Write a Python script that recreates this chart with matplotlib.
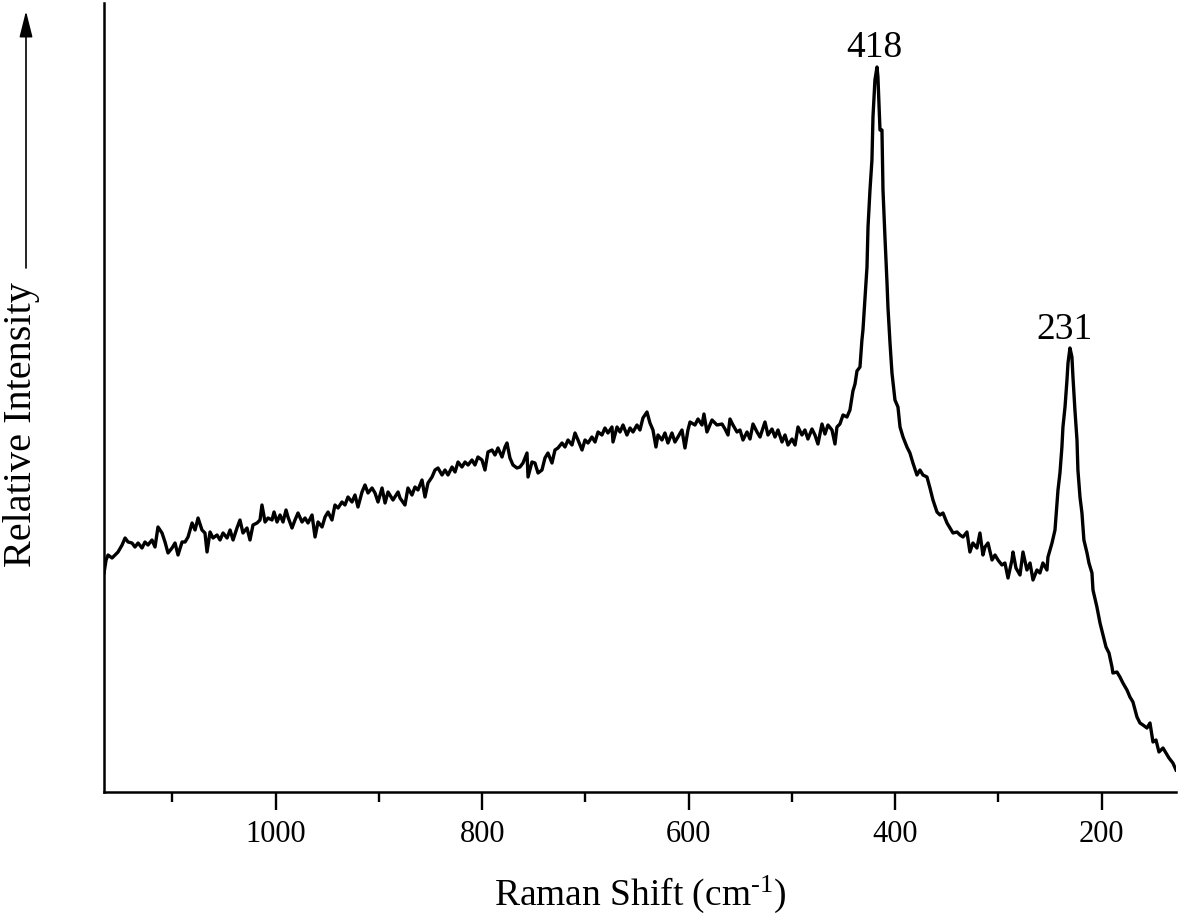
import matplotlib
matplotlib.use("Agg")
import matplotlib.pyplot as plt

plt.rcParams['font.family'] = ['Liberation Serif', 'DejaVu Serif']
plt.rcParams['mathtext.fontset'] = 'custom'
plt.rcParams['mathtext.rm'] = 'Liberation Serif'
plt.rcParams['mathtext.it'] = 'Liberation Serif:italic'

# Raman spectrum (arbitrary intensity units)
shift = [
    1166.3, 1164.3, 1162.4, 1158.5, 1155.6, 1152.7, 1148.8, 1145.9, 1143.0, 1139.2,
    1136.3, 1133.3, 1129.5, 1126.6, 1123.7, 1119.8, 1116.9, 1114.0, 1110.1, 1107.2,
    1104.3, 1100.4, 1097.5, 1094.6, 1090.7, 1087.8, 1084.9, 1081.0, 1078.1, 1075.2,
    1071.4, 1068.5, 1066.5, 1063.6, 1060.7, 1056.8, 1053.9, 1051.0, 1047.1, 1044.2,
    1041.3, 1037.5, 1034.6, 1031.7, 1027.8, 1024.9, 1022.0, 1018.1, 1015.2, 1013.3,
    1010.3, 1007.4, 1003.6, 1001.6, 998.7, 995.8, 992.9, 990.0, 988.1, 984.2,
    981.3, 978.4, 974.5, 971.6, 968.7, 964.8, 961.9, 959.0, 955.1, 952.2,
    949.3, 945.5, 942.6, 939.6, 935.8, 932.9, 930.0, 926.1, 923.2, 920.3,
    916.4, 913.5, 910.6, 906.7, 903.8, 900.9, 897.0, 894.1, 891.2, 886.4,
    881.5, 879.6, 874.8, 871.9, 868.0, 865.1, 862.2, 858.3, 855.4, 852.5,
    848.6, 845.7, 842.8, 838.9, 836.0, 833.1, 829.2, 826.3, 823.4, 819.6,
    816.6, 813.7, 809.9, 807.0, 804.1, 800.2, 797.3, 794.4, 790.5, 787.6,
    784.7, 780.8, 777.9, 776.0, 773.1, 770.2, 766.3, 763.4, 760.5, 756.6,
    755.6, 751.8, 748.9, 745.9, 742.1, 739.2, 736.3, 732.4, 729.5, 726.6,
    722.7, 719.8, 716.9, 713.0, 710.1, 707.2, 703.3, 700.4, 697.5, 693.7,
    690.7, 687.8, 684.0, 681.1, 678.2, 674.3, 673.3, 669.4, 666.5, 663.6,
    659.8, 656.8, 653.9, 650.1, 647.2, 644.3, 640.4, 637.5, 634.6, 631.7,
    629.7, 625.9, 623.0, 620.1, 616.2, 613.3, 610.4, 606.5, 603.6, 600.7,
    598.7, 593.9, 591.0, 587.1, 585.2, 582.3, 577.4, 572.6, 567.7, 564.8,
    561.9, 560.0, 557.1, 553.2, 550.3, 547.4, 543.5, 540.6, 537.7, 533.8,
    530.9, 526.1, 523.2, 519.3, 516.4, 513.5, 509.6, 506.7, 503.8, 499.9,
    497.0, 494.1, 490.3, 487.4, 484.5, 480.6, 477.7, 474.8, 470.9, 468.0,
    465.1, 461.2, 458.3, 456.4, 453.5, 450.5, 446.7, 443.8, 440.9, 438.9,
    437.0, 434.1, 432.2, 431.2, 429.2, 427.3, 426.3, 424.4, 422.5, 421.5,
    419.6, 417.6, 416.7, 414.7, 412.8, 411.8, 409.9, 407.9, 407.0, 405.0,
    403.1, 400.2, 397.3, 395.3, 392.4, 388.6, 385.7, 382.8, 378.9, 376.0,
    373.1, 369.2, 366.3, 363.4, 359.5, 356.6, 353.7, 349.8, 346.9, 344.0,
    340.1, 337.2, 334.3, 330.5, 327.6, 324.7, 320.8, 317.9, 315.0, 313.0,
    310.1, 306.2, 303.3, 300.4, 296.6, 293.7, 290.7, 286.9, 285.9, 283.0,
    279.1, 276.2, 272.4, 269.4, 266.5, 262.7, 259.8, 256.9, 253.0, 252.0,
    248.1, 245.2, 243.3, 242.3, 240.4, 238.5, 237.5, 235.5, 233.6, 232.6,
    230.7, 228.8, 227.8, 225.9, 223.9, 223.0, 221.0, 219.1, 217.2, 214.2,
    212.3, 209.4, 208.4, 204.6, 201.6, 198.7, 195.8, 192.9, 190.0, 189.1,
    185.2, 182.3, 179.4, 175.5, 172.6, 169.7, 165.8, 162.9, 160.0, 156.1,
    153.2, 150.3, 147.4, 144.5, 140.6, 137.7, 134.8, 131.0, 128.0,
]
intensity = [
    219, 232, 237, 234, 237, 240, 247, 254, 250, 249,
    245, 249, 244, 250, 247, 252, 245, 265, 259, 250,
    239, 244, 249, 237, 250, 250, 255, 269, 262, 274,
    262, 259, 240, 260, 254, 257, 252, 259, 254, 262,
    252, 264, 272, 259, 264, 252, 267, 269, 272, 287,
    270, 274, 272, 280, 270, 277, 270, 282, 275, 264,
    272, 279, 270, 274, 269, 277, 255, 270, 265, 275,
    280, 272, 287, 284, 290, 287, 295, 290, 297, 285,
    300, 307, 299, 304, 299, 290, 304, 289, 300, 292,
    300, 294, 287, 304, 297, 305, 302, 312, 295, 309,
    315, 322, 324, 317, 322, 317, 325, 320, 330, 325,
    330, 327, 332, 327, 335, 332, 322, 340, 342, 337,
    344, 335, 345, 349, 334, 327, 324, 325, 329, 339,
    315, 330, 329, 319, 322, 334, 339, 329, 342, 344,
    349, 345, 352, 347, 359, 352, 342, 352, 349, 355,
    350, 360, 357, 364, 359, 365, 350, 365, 360, 367,
    357, 364, 360, 367, 362, 374, 380, 369, 362, 345,
    357, 352, 359, 349, 359, 350, 355, 362, 344, 362,
    370, 367, 373, 367, 378, 360, 372, 367, 368, 363,
    357, 373, 367, 360, 362, 352, 360, 353, 368, 360,
    355, 370, 357, 363, 355, 362, 350, 357, 347, 353,
    347, 365, 357, 362, 353, 363, 357, 348, 368, 358,
    367, 362, 348, 365, 368, 377, 375, 382, 401, 408,
    421, 425, 452, 462, 495, 525, 565, 602, 632, 675,
    712, 725, 715, 662, 662, 602, 555, 509, 485, 449,
    419, 392, 385, 365, 355, 345, 339, 329, 317, 322,
    317, 315, 304, 292, 280, 277, 279, 269, 264, 259,
    260, 257, 255, 260, 240, 249, 244, 259, 237, 245,
    249, 232, 237, 232, 227, 229, 214, 232, 240, 224,
    217, 240, 222, 229, 212, 222, 219, 229, 222, 235,
    249, 262, 289, 302, 319, 345, 365, 385, 412, 429,
    444, 435, 415, 382, 352, 322, 295, 279, 252, 239,
    229, 219, 202, 185, 169, 157, 145, 139, 125, 119,
    120, 115, 109, 102, 95, 90, 75, 69, 67, 64,
    69, 50, 52, 40, 44, 39, 34, 29, 22,
]

peak_labels = ['418', '231']
peak_text_xy = [(420.5, 744), (236, 462)]

W, H = 1181, 924
fig = plt.figure(figsize=(W / 100, H / 100), dpi=100)
ax = fig.add_axes([104 / W, 1 - 792 / H, 1072 / W, 789 / H])

ax.plot(shift, intensity, color='black', lw=2.4, solid_joinstyle='round')
ax.set_xlim(1166.3, 128)
ax.set_ylim(0, 789)

for s in ['top', 'right']:
    ax.spines[s].set_visible(False)
for s in ['left', 'bottom']:
    ax.spines[s].set_linewidth(1.8)

ax.set_yticks([])
ax.set_xticks([1000, 800, 600, 400, 200])
ax.set_xticks([1100, 900, 700, 500, 300], minor=True)
ax.tick_params(axis='x', which='major', direction='out', length=13, width=1.7,
               labelsize=22, pad=7)
ax.tick_params(axis='x', which='minor', direction='out', length=7, width=1.7)

ax.set_xlabel('Raman Shift (cm$^{\\mathregular{\u2010}1}$)', fontsize=27, labelpad=18)

fig.text(22 / W, 1 - 425 / H, 'Relative Intensity', rotation=90,
         ha='center', va='center', fontsize=29)
ax.annotate('', xy=(26, H - 11), xytext=(26, H - 268),
            xycoords='figure pixels', textcoords='figure pixels',
            arrowprops=dict(arrowstyle='-|>,head_length=1.6,head_width=0.4',
                            color='black', lw=1.2, shrinkA=0, shrinkB=0))

for lab, (tx, ty) in zip(peak_labels, peak_text_xy):
    ax.text(tx, ty, lab, ha='center', va='center', fontsize=27)

fig.savefig('out.png', dpi=100)
